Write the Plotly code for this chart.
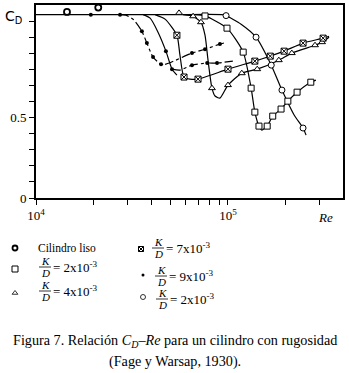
import plotly.graph_objects as go

# ---------------- data ----------------
# smooth cylinder (bold open circles)
re_liso = [1.45e4, 2.11e4]
cd_liso = [1.157, 1.184]

# thin open circles (K/D = 2x10^-3, last legend entry) - also carries the flat line
re_circ_line = [1.0e4, 5.0e4, 9.31e4, 9.77e4, 1.17e5, 1.40e5, 1.68e5, 1.91e5, 2.21e5, 2.46e5, 2.55e5]
cd_circ_line = [1.14, 1.14, 1.14, 1.134, 1.081, 1.0, 0.826, 0.671, 0.516, 0.435, 0.391]
re_circ_mk = [9.77e4, 1.40e5, 1.68e5, 1.91e5, 2.46e5]
cd_circ_mk = [1.134, 1.0, 0.826, 0.671, 0.435]

# squares K/D = 2x10^-3
re_sq_line = [6.73e4, 7.59e4, 9.88e4, 1.20e5, 1.32e5, 1.38e5, 1.45e5, 1.50e5, 1.60e5, 1.71e5, 1.89e5, 2.05e5, 2.29e5, 2.70e5, 2.87e5]
cd_sq_line = [1.14, 1.132, 1.056, 0.907, 0.683, 0.534, 0.447, 0.422, 0.447, 0.509, 0.553, 0.602, 0.658, 0.720, 0.733]
re_sq_mk = [7.59e4, 9.88e4, 1.20e5, 1.32e5, 1.38e5, 1.45e5, 1.60e5, 1.71e5, 1.89e5, 2.05e5, 2.29e5, 2.70e5]
cd_sq_mk = [1.132, 1.056, 0.907, 0.683, 0.534, 0.447, 0.447, 0.509, 0.553, 0.602, 0.658, 0.720]

# triangles K/D = 4x10^-3
re_tri_line = [5.83e4, 6.58e4, 7.23e4, 7.59e4, 7.87e4, 8.25e4, 8.56e4, 9.08e4, 1.0e5, 1.18e5, 1.42e5, 1.84e5, 2.15e5, 2.84e5, 3.09e5, 3.36e5]
cd_tri_line = [1.14, 1.130, 1.093, 1.012, 0.857, 0.683, 0.634, 0.621, 0.702, 0.776, 0.801, 0.857, 0.901, 0.950, 0.969, 1.0]
re_tri_mk = [5.56e4, 6.58e4, 7.23e4, 8.25e4, 1.0e5, 1.18e5, 1.42e5, 1.84e5, 2.15e5, 2.84e5, 3.09e5]
cd_tri_mk = [1.151, 1.130, 1.093, 0.683, 0.702, 0.776, 0.801, 0.857, 0.901, 0.950, 0.969]

# crossed squares K/D = 7x10^-3
re_xs_line = [4.17e4, 4.70e4, 5.42e4, 5.62e4, 5.90e4, 6.34e4, 6.98e4, 1.0e5, 1.38e5, 1.66e5, 1.96e5, 2.46e5, 3.13e5, 3.36e5]
cd_xs_line = [1.14, 1.112, 1.012, 0.888, 0.752, 0.739, 0.739, 0.801, 0.851, 0.882, 0.913, 0.963, 0.994, 1.006]
re_xs_mk = [5.42e4, 5.90e4, 6.98e4, 1.0e5, 1.38e5, 1.66e5, 1.96e5, 2.46e5, 3.13e5]
cd_xs_mk = [1.012, 0.752, 0.739, 0.801, 0.851, 0.882, 0.913, 0.963, 0.994]

# dots K/D = 9x10^-3 (two dash-dot branches)
re_dotA_line = [2.74e4, 2.94e4, 3.24e4, 3.56e4, 3.78e4, 4.07e4, 4.48e4, 4.75e4, 6.49e4, 7.59e4, 9.08e4, 9.88e4]
cd_dotA_line = [1.14, 1.137, 1.106, 1.037, 0.963, 0.876, 0.832, 0.832, 0.901, 0.925, 0.957, 0.969]
re_dotA_mk = [1.93e4, 2.74e4, 3.56e4, 3.78e4, 4.07e4, 4.48e4, 6.49e4, 7.59e4, 9.08e4]
cd_dotA_mk = [1.14, 1.14, 1.037, 0.963, 0.876, 0.832, 0.901, 0.925, 0.957]

re_dotB_line = [3.61e4, 3.93e4, 4.32e4, 4.75e4, 5.11e4, 5.42e4]
cd_dotB_line = [1.14, 1.118, 1.031, 0.913, 0.801, 0.764]
re_dotB2_line = [5.11e4, 5.6e4, 6.49e4, 7.79e4, 8.77e4, 1.06e5]
cd_dotB2_line = [0.801, 0.795, 0.826, 0.839, 0.839, 0.851]
re_dotB_mk = [4.75e4, 5.11e4, 6.49e4, 7.79e4, 8.77e4]
cd_dotB_mk = [0.913, 0.801, 0.826, 0.839, 0.839]

x_tickvals = [1e4, 2e4, 3e4, 4e4, 5e4, 6e4, 7e4, 8e4, 9e4, 1e5, 2e5, 3e5]
x_ticktext = ["10<sup>4</sup>", "", "", "", "", "", "", "", "", "10<sup>5</sup>", "", ""]
y_tickvals = [0, 0.1, 0.2, 0.3, 0.4, 0.5, 0.6, 0.7, 0.8, 0.9, 1.0, 1.1]
y_ticktext = ["0", "", "", "", "", "0.5", "", "", "", "", "", ""]

# ---------------- figure ----------------
W, H = 349, 373
SERIF = "Liberation Serif, Times New Roman, serif"
fig = go.Figure()

LW = 1.2


def line(x, y, dash="solid", smooth=0.7):
    fig.add_trace(go.Scatter(x=x, y=y, mode="lines", showlegend=False, hoverinfo="skip",
                             line=dict(color="black", width=LW, dash=dash, shape="spline", smoothing=smooth)))


def marks(x, y, symbol, size, fill="white", lw=1.0, xa="x", ya="y"):
    fig.add_trace(go.Scatter(x=x, y=y, mode="markers", showlegend=False, hoverinfo="skip",
                             xaxis=xa, yaxis=ya,
                             marker=dict(symbol=symbol, size=size, color=fill,
                                         line=dict(color="black", width=lw))))


line(re_circ_line, cd_circ_line, smooth=0.6)
line(re_sq_line, cd_sq_line, smooth=0.6)
line(re_tri_line, cd_tri_line, smooth=0.6)
line(re_xs_line, cd_xs_line, smooth=0.6)
line(re_dotA_line, cd_dotA_line, dash="dashdot", smooth=0.6)
line(re_dotB_line, cd_dotB_line, smooth=0.6)
line(re_dotB2_line, cd_dotB2_line, dash="dashdot", smooth=0.6)

marks(re_liso, cd_liso, "circle", 6, lw=1.8)
marks(re_circ_mk, cd_circ_mk, "circle", 6, lw=1.0)
marks(re_sq_mk, cd_sq_mk, "square", 6, lw=1.0)
marks(re_tri_mk, cd_tri_mk, "triangle-up", 6, lw=1.0)
marks(re_xs_mk, cd_xs_mk, "square-x", 6, lw=1.0)
marks(re_dotA_mk, cd_dotA_mk, "circle", 4, fill="black", lw=0)
marks(re_dotB_mk, cd_dotB_mk, "circle", 4, fill="black", lw=0)

# ---------- legend (in pixel coordinates of overlay axes x2/y2) ----------
leg_mk_x = [15, 15, 15, 141, 143, 143]
leg_mk_y = [248, 269, 293, 249, 275, 297]
marks([leg_mk_x[0]], [leg_mk_y[0]], "circle", 5, lw=1.8, xa="x2", ya="y2")
marks([leg_mk_x[1]], [leg_mk_y[1]], "square", 6, lw=1.0, xa="x2", ya="y2")
marks([leg_mk_x[2]], [leg_mk_y[2]], "triangle-up", 5, lw=0.8, xa="x2", ya="y2")
marks([leg_mk_x[3]], [leg_mk_y[3]], "square-x", 5, lw=1.0, xa="x2", ya="y2")
marks([leg_mk_x[4]], [leg_mk_y[4]], "circle", 3, fill="black", lw=0, xa="x2", ya="y2")
marks([leg_mk_x[5]], [leg_mk_y[5]], "circle", 5, lw=0.8, xa="x2", ya="y2")

annotations = []
shapes = []


def txt(x, y, s, size=13, xanchor="left", italic=False, family=SERIF):
    annotations.append(dict(x=x, y=y, xref="x2", yref="y2", text=s, showarrow=False,
                            xanchor=xanchor, yanchor="middle",
                            font=dict(family=family, size=size, color="black",
                                      style="italic" if italic else "normal")))


txt(36, 248, "Cilindro liso", 11.5)

fracs = [  # x center, bar y, value text
    (45, 267, "= 2x10<sup>-3</sup>"),
    (45, 291, "= 4x10<sup>-3</sup>"),
    (158, 248, "= 7x10<sup>-3</sup>"),
    (161, 276, "= 9x10<sup>-3</sup>"),
    (162, 299, "= 2x10<sup>-3</sup>"),
]
for fx, fy, val in fracs:
    txt(fx, fy - 6, "K", 11, xanchor="center", italic=True)
    txt(fx, fy + 6, "D", 11, xanchor="center", italic=True)
    shapes.append(dict(type="line", xref="x2", yref="y2", x0=fx - 6, x1=fx + 6, y0=fy, y1=fy,
                       line=dict(color="black", width=0.8)))
    txt(fx + 6, fy, val, 13)

# caption
txt(175, 341, "Figura 7. Relación <i>C<sub>D</sub></i>–<i>Re</i> para un cilindro con rugosidad", 14.2, xanchor="center")
txt(175, 361, "(Fage y Warsap, 1930).", 14.2, xanchor="center")

# axis annotations
txt(3, 17, "C<sub>D</sub>", 14, family="DejaVu Sans, sans-serif")
txt(316, 217, "Re", 13, italic=True)

x0p, x1p, y0p, y1p = 36, 343, 5, 198
fig.update_layout(
    width=W, height=H,
    margin=dict(l=0, r=0, t=0, b=0, autoexpand=False),
    paper_bgcolor="white", plot_bgcolor="rgba(0,0,0,0)",
    showlegend=False,
    annotations=annotations, shapes=shapes,
    xaxis=dict(type="log", domain=[x0p / W, x1p / W], range=[4, 5.599],
               tickvals=x_tickvals, ticktext=x_ticktext, ticks="outside", ticklen=5,
               tickwidth=1, tickcolor="black", showgrid=False, zeroline=False,
               showline=True, linecolor="black", linewidth=1.6, mirror=True,
               tickfont=dict(family=SERIF, size=13, color="black"), anchor="y"),
    yaxis=dict(domain=[1 - y1p / H, 1 - y0p / H], range=[0, 1.2],
               tickvals=y_tickvals, ticktext=y_ticktext, ticks="outside", ticklen=5,
               tickwidth=1, tickcolor="black", showgrid=False, zeroline=False,
               showline=True, linecolor="black", linewidth=1.6, mirror=True,
               tickfont=dict(family=SERIF, size=13, color="black"), anchor="x"),
    xaxis2=dict(domain=[0, 1], range=[0, W], visible=False, anchor="y2", fixedrange=True),
    yaxis2=dict(domain=[0, 1], range=[H, 0], visible=False, anchor="x2", fixedrange=True),
)

fig.write_html("out.html", config={"displayModeBar": False},
               post_script="document.body.style.margin='0px';document.body.style.padding='0px';")
